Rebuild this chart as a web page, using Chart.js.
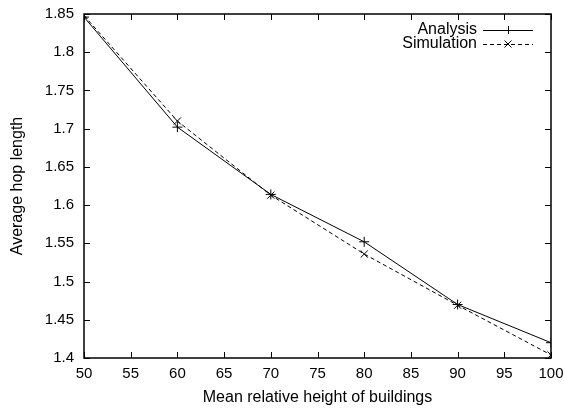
<!DOCTYPE html>
<html>
<head>
<meta charset="utf-8">
<script src="https://cdn.jsdelivr.net/npm/chart.js@4.4.1/dist/chart.umd.min.js"></script>
<style>
html,body{margin:0;padding:0;background:#fff;}
#wrap{width:564px;height:410px;}
</style>
</head>
<body>
<div id="wrap"><canvas id="c" width="564" height="410"></canvas></div>
<script>
const categories = [50, 60, 70, 80, 90, 100];
const analysis = [1.846, 1.702, 1.614, 1.552, 1.470, 1.420];
const simulation = [1.848, 1.710, 1.613, 1.536, 1.469, 1.404];
const xTicks = [50, 55, 60, 65, 70, 75, 80, 85, 90, 95, 100];
const yTicks = [1.4, 1.45, 1.5, 1.55, 1.6, 1.65, 1.7, 1.75, 1.8, 1.85];

const FONT = 'Liberation Sans, Arial, Helvetica, sans-serif';

function noPad(s) {
  s.paddingTop = 0; s.paddingBottom = 0; s.paddingLeft = 0; s.paddingRight = 0;
}

const framePlugin = {
  id: 'frame',
  afterDatasetsDraw(chart) {
    const ctx = chart.ctx, a = chart.chartArea;
    const xs = chart.scales.x, ys = chart.scales.y;
    ctx.save();
    ctx.strokeStyle = '#000';
    ctx.lineWidth = 1;
    ctx.beginPath();
    const L = 6;
    xTicks.forEach(v => {
      const p = Math.round(xs.getPixelForValue(v)) + 0.5;
      ctx.moveTo(p, a.bottom); ctx.lineTo(p, a.bottom - L);
      ctx.moveTo(p, a.top); ctx.lineTo(p, a.top + L);
    });
    yTicks.forEach(v => {
      const p = Math.round(ys.getPixelForValue(v)) + 0.5;
      ctx.moveTo(a.left, p); ctx.lineTo(a.left + L, p);
      ctx.moveTo(a.right, p); ctx.lineTo(a.right - L, p);
    });
    ctx.stroke();
    ctx.lineWidth = 1.5;
    ctx.strokeRect(a.left, a.top, a.right - a.left, a.bottom - a.top);
    // legend
    ctx.font = '16px ' + FONT;
    ctx.fillStyle = '#000';
    ctx.textAlign = 'right';
    ctx.textBaseline = 'middle';
    const rows = [30, 44];
    chart.data.datasets.forEach((ds, i) => {
      const y = rows[i];
      ctx.fillText(ds.label, 477, y);
      ctx.lineWidth = 1;
      ctx.setLineDash(ds.borderDash || []);
      ctx.beginPath();
      ctx.moveTo(483, y + 0.5); ctx.lineTo(533, y + 0.5);
      ctx.stroke();
      ctx.setLineDash([]);
      const m = 4;
      ctx.beginPath();
      if (ds.pointStyle === 'cross') {
        ctx.moveTo(508 - m, y + 0.5); ctx.lineTo(508 + m, y + 0.5);
        ctx.moveTo(508.5, y - m); ctx.lineTo(508.5, y + m);
      } else {
        ctx.moveTo(508 - 3.5, y - 3.5); ctx.lineTo(508 + 3.5, y + 3.5);
        ctx.moveTo(508 - 3.5, y + 3.5); ctx.lineTo(508 + 3.5, y - 3.5);
      }
      ctx.stroke();
    });
    ctx.restore();
  }
};

new Chart(document.getElementById('c'), {
  type: 'scatter',
  data: {
    datasets: [
      {
        label: 'Analysis',
        data: categories.map((x, i) => ({x: x, y: analysis[i]})),
        showLine: true,
        borderColor: '#000',
        backgroundColor: '#000',
        borderWidth: 1,
        pointStyle: 'cross',
        pointRadius: 5,
        pointBorderWidth: 1,
        pointHoverRadius: 5
      },
      {
        label: 'Simulation',
        data: categories.map((x, i) => ({x: x, y: simulation[i]})),
        showLine: true,
        borderColor: '#000',
        backgroundColor: '#000',
        borderWidth: 1,
        borderDash: [4, 3],
        pointStyle: 'crossRot',
        pointRadius: 5,
        pointBorderWidth: 1,
        pointHoverRadius: 5
      }
    ]
  },
  options: {
    responsive: false,
    animation: false,
    events: [],
    layout: {padding: {left: 0, right: 13, top: 14, bottom: 0}},
    plugins: {legend: {display: false}, tooltip: {enabled: false}},
    scales: {
      x: {
        type: 'linear',
        min: 50, max: 100,
        afterFit(s) { s.height = 52; noPad(s); },
        afterBuildTicks(s) { s.ticks = xTicks.map(v => ({value: v})); },
        grid: {display: true, drawOnChartArea: false, drawTicks: false},
        border: {display: false},
        ticks: {color: '#000', font: {size: 15, family: FONT}, padding: 7, maxRotation: 0, autoSkip: false,
                callback: v => String(v)},
        title: {display: true, text: 'Mean relative height of buildings', color: '#000',
                font: {size: 16, family: FONT}, padding: {top: 0, bottom: 3}}
      },
      y: {
        type: 'linear',
        min: 1.4, max: 1.85,
        afterFit(s) { s.width = 84; noPad(s); },
        afterBuildTicks(s) { s.ticks = yTicks.map(v => ({value: v})); },
        grid: {display: true, drawOnChartArea: false, drawTicks: false},
        border: {display: false},
        ticks: {color: '#000', font: {size: 15, family: FONT}, padding: 10, autoSkip: false,
                callback: v => String(Math.round(v * 100) / 100)},
        title: {display: true, text: 'Average hop length', color: '#000',
                font: {size: 16, family: FONT}, padding: {top: 8, bottom: 0}}
      }
    }
  },
  plugins: [framePlugin]
});
</script>
</body>
</html>
